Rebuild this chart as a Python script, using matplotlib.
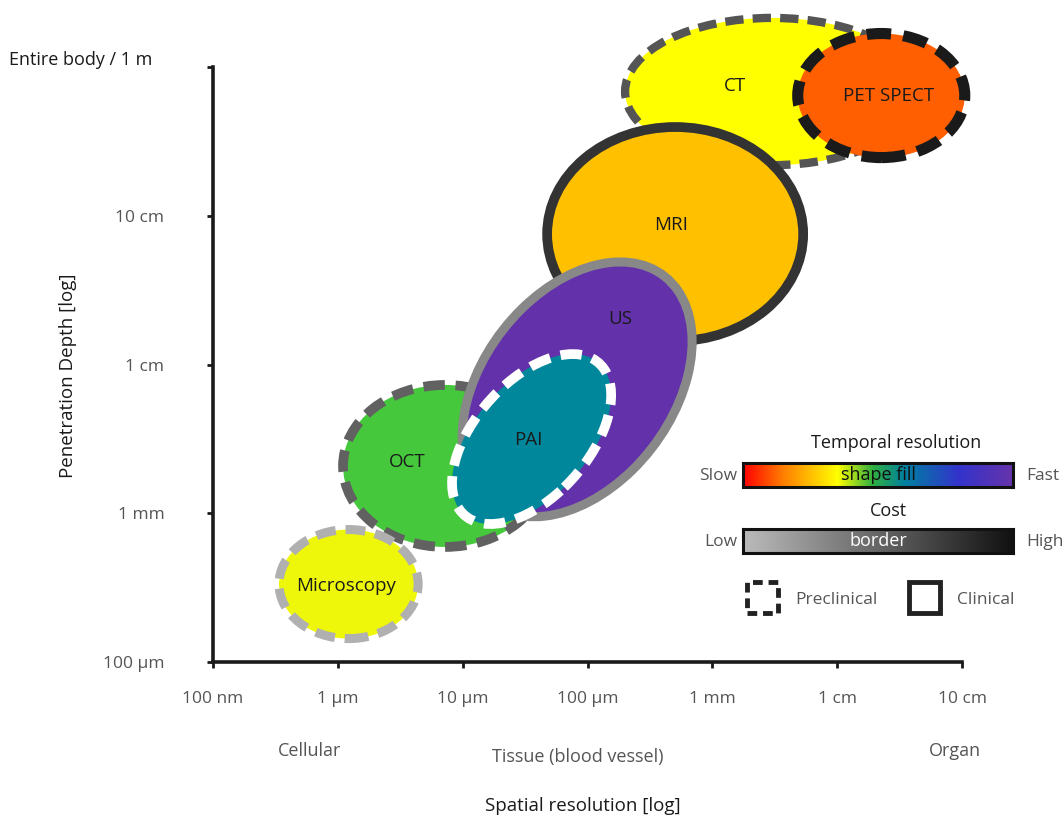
import numpy as np
import matplotlib
matplotlib.use("Agg")
import matplotlib.pyplot as plt
from matplotlib.patches import Ellipse, Rectangle
from matplotlib.colors import LinearSegmentedColormap

plt.rcParams['font.family'] = ['Open Sans', 'DejaVu Sans']

# axes: log10 of metres
x_ticks = [-7, -6, -5, -4, -3, -2, -1]
x_labels = ["100 nm", "1 µm", "10 µm", "100 µm", "1 mm", "1 cm", "10 cm"]
y_ticks = [-4, -3, -2, -1, 0]
y_labels = ["100 µm", "1 mm", "1 cm", "10 cm", ""]
top_label = "Entire body / 1 m"

# modalities, drawn in this order
names = ["CT", "MRI", "OCT", "US", "PAI", "PET SPECT", "Microscopy"]
cx = [-2.521, -3.298, -5.141, -4.083, -4.448, -1.647, -5.914]
cy = [-0.165, -1.123, -2.682, -2.167, -2.501, -0.192, -3.476]
widths = [2.356, 2.051, 1.635, 2.09, 1.495, 1.338, 1.114]
heights = [0.99, 1.439, 1.089, 1.40, 0.834, 0.834, 0.733]
angles = [0, 0, 0, 39.5, 39.0, 0, 0]
label_x = [-2.817, -3.330, -5.446, -3.739, -4.476, -1.591, -5.934]
label_y = [-0.128, -1.062, -2.655, -1.694, -2.508, -0.195, -3.489]
fills = ["#FFFF00", "#FFC000", "#46C83C", "#6332AA", "#00879B", "#FF5F00", "#EEF70A"]
borders = ["#555555", "#333333", "#616161", "#888888", "#FFFFFF", "#1A1A1A", "#B0B0B0"]
border_w = [6.0, 7.0, 7.0, 6.5, 7.0, 8.0, 6.5]
dashed = [True, False, True, False, True, True, True]

fig = plt.figure(figsize=(10.63, 8.16), dpi=100)
ax = fig.add_axes([0.2004, 0.1887, 0.7046, 0.7292])
ax.set_xlim(-7, -1)
ax.set_ylim(-4, 0)

for i, name in enumerate(names):
    ls = (0, (2.2, 1.1)) if dashed[i] else "solid"
    e = Ellipse((cx[i], cy[i]), widths[i], heights[i], angle=angles[i],
                facecolor=fills[i], edgecolor=borders[i], linewidth=border_w[i],
                linestyle=ls, clip_on=False, zorder=2 + i)
    ax.add_patch(e)
    ax.text(label_x[i], label_y[i], name, ha="center", va="center",
            fontsize=13.5, color="#1A1A1A", zorder=20, clip_on=False)

for s in ["top", "right"]:
    ax.spines[s].set_visible(False)
for s in ["left", "bottom"]:
    ax.spines[s].set_linewidth(2.6)
    ax.spines[s].set_color("#1A1A1A")
    ax.spines[s].set_zorder(1)

ax.set_xticks(x_ticks)
ax.set_xticklabels(x_labels)
ax.set_yticks(y_ticks)
ax.set_yticklabels(y_labels)
ax.tick_params(axis="both", direction="out", length=4, width=2, color="#1A1A1A",
               labelsize=12.5, labelcolor="#555555")
ax.tick_params(axis="x", pad=17)
ax.tick_params(axis="y", pad=31)

fig.text(9 / 1063, 1 - 60 / 816, top_label, ha="left", va="center", fontsize=13, color="#1A1A1A")
fig.text(583 / 1063, 1 - 806 / 816, "Spatial resolution [log]", ha="center", va="center",
         fontsize=13.5, color="#1A1A1A")
fig.text(68 / 1063, 1 - 376 / 816, "Penetration Depth [log]", ha="center", va="center",
         rotation=90, fontsize=13.5, color="#1A1A1A")

# scale categories
fig.text(310 / 1063, 1 - 751 / 816, "Cellular", ha="center", va="center", fontsize=13, color="#555555")
fig.text(578 / 1063, 1 - 757 / 816, "Tissue (blood vessel)", ha="center", va="center", fontsize=13, color="#555555")
fig.text(955 / 1063, 1 - 751 / 816, "Organ", ha="center", va="center", fontsize=13, color="#555555")

# legend: temporal resolution (fill) and cost (border)
fill_cmap = LinearSegmentedColormap.from_list(
    "fill", [(0.0, "#FF0000"), (0.15, "#FF8000"), (0.35, "#FFFF00"), (0.48, "#30B040"),
             (0.6, "#0080A0"), (0.8, "#3333CC"), (1.0, "#6633AA")])
cost_cmap = LinearSegmentedColormap.from_list("cost", ["#BBBBBB", "#111111"])
grad = np.linspace(0, 1, 256).reshape(1, -1)

def bar(y_top, cmap, text, text_color, left, right):
    bx = fig.add_axes([743 / 1063, 1 - (y_top + 24) / 816, 270 / 1063, 24 / 816])
    bx.imshow(grad, aspect="auto", cmap=cmap, extent=[0, 1, 0, 1])
    bx.set_xticks([])
    bx.set_yticks([])
    for s in bx.spines.values():
        s.set_linewidth(2.2)
        s.set_color("#111111")
    bx.text(0.5, 0.5, text, ha="center", va="center", fontsize=13, color=text_color,
            transform=bx.transAxes)
    bx.text(-0.02, 0.45, left, ha="right", va="center", fontsize=12.5, color="#555555",
            transform=bx.transAxes)
    bx.text(1.05, 0.45, right, ha="left", va="center", fontsize=12.5, color="#555555",
            transform=bx.transAxes)

bar(463, fill_cmap, "shape fill", "#111111", "Slow", "Fast")
bar(529, cost_cmap, "border", "#FFFFFF", "Low", "High")
fig.text(896 / 1063, 1 - 443 / 816, "Temporal resolution", ha="center", va="center", fontsize=13, color="#1A1A1A")
fig.text(888 / 1063, 1 - 511 / 816, "Cost", ha="center", va="center", fontsize=13, color="#1A1A1A")

# preclinical / clinical markers
fig.patches.append(Rectangle((747 / 1063, 1 - 613 / 816), 31 / 1063, 31 / 816, transform=fig.transFigure,
                             fill=False, edgecolor="#222222", linewidth=3.5, linestyle=(0, (2.0, 1.2))))
fig.patches.append(Rectangle((909 / 1063, 1 - 613 / 816), 31 / 1063, 31 / 816, transform=fig.transFigure,
                             fill=False, edgecolor="#222222", linewidth=3.5))
fig.text(795 / 1063, 1 - 600 / 816, "Preclinical", ha="left", va="center", fontsize=12.5, color="#555555")
fig.text(957 / 1063, 1 - 600 / 816, "Clinical", ha="left", va="center", fontsize=12.5, color="#555555")

fig.savefig("out.png", dpi=100)
